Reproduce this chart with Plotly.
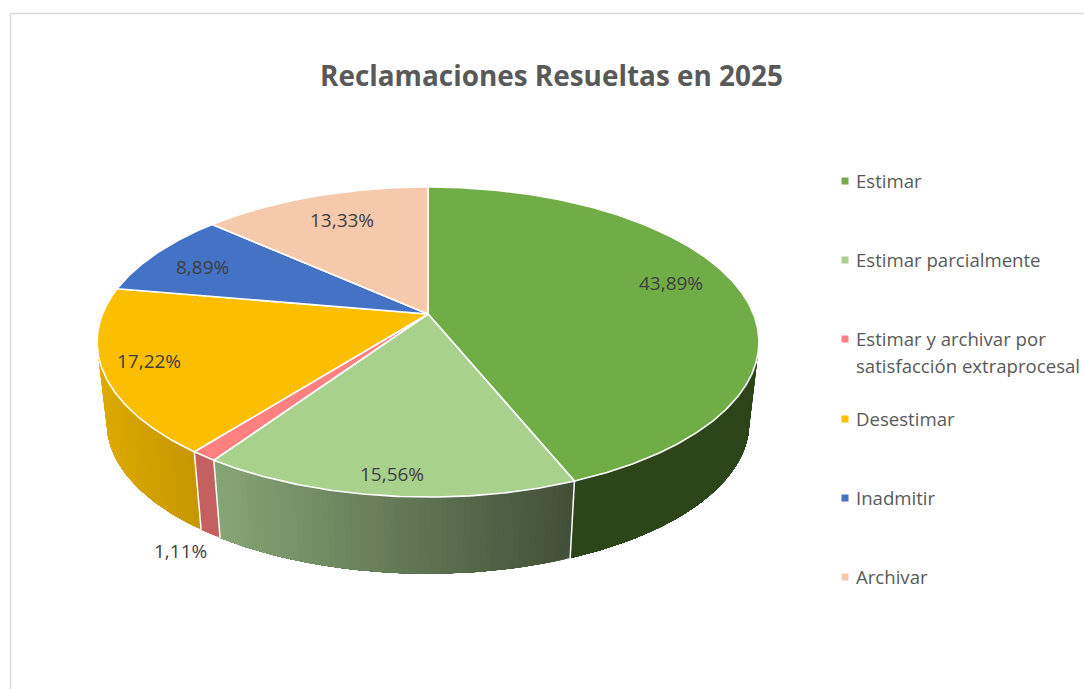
import math
import plotly.graph_objects as go

# ---- data ----
TITLE = "Reclamaciones Resueltas en 2025"
categories = ["Estimar", "Estimar parcialmente",
              "Estimar y archivar por<br>satisfacción extraprocesal",
              "Desestimar", "Inadmitir", "Archivar"]
values = [43.89, 15.56, 1.11, 17.22, 8.89, 13.33]

# ---- styles ----
top_colors = ["#70AD47", "#A9D18E", "#FF8080", "#FCBE00", "#4472C4", "#F4C9AC"]
wall_left = ["#2C4519", "#87A676", "#C46060", "#DCA900", "#2C4A80", "#A08470"]
wall_right = ["#2C4519", "#425038", "#C46060", "#C69700", "#2C4A80", "#A08470"]
label_xy = [(671, 283), (392, 474), (180, 551), (149, 361), (202, 267), (342, 220)]
FONT = "Open Sans"

# projection of the pie disc (perspective view, pixel space)
CX, K = 428, 0.1806
TOP = dict(a=325.5, b=150, y0=314)
BOT = dict(a=316, b=146, y0=395.5)


def project(theta_deg, disc):
    t = math.radians(theta_deg)
    u, v = math.sin(t), math.cos(t)
    d = 1 + K * v
    return CX + disc["a"] * u / d, disc["y0"] - disc["b"] * v / d


def hex_mix(c1, c2, f):
    a = [int(c1[i:i + 2], 16) for i in (1, 3, 5)]
    b = [int(c2[i:i + 2], 16) for i in (1, 3, 5)]
    return "#%02x%02x%02x" % tuple(round(p + (q - p) * f) for p, q in zip(a, b))


def arc(t0, t1, disc, step=1.0):
    n = max(2, int(abs(t1 - t0) / step) + 1)
    return [project(t0 + (t1 - t0) * i / (n - 1), disc) for i in range(n)]


def poly(pts, fill, line=None, lw=0.0):
    xs, ys = zip(*pts)
    return go.Scatter(x=list(xs), y=list(ys), mode="lines", fill="toself", fillcolor=fill,
                      line=dict(color=line or fill, width=lw), hoverinfo="skip", showlegend=False)


total = sum(values)
edges = [0.0]
for val in values:
    edges.append(edges[-1] + val / total * 360)

fig = go.Figure()

# side walls (only the near half of the disc shows); painted back to front so no seams show
VIS0, VIS1 = 80.0, 280.0
for i, col in enumerate(top_colors):
    a0, a1 = max(edges[i], VIS0), min(edges[i + 1], VIS1)
    if a1 <= a0:
        continue
    n = max(6, int((a1 - a0) * 1.2))
    x_a, x_b = project(a0, TOP)[0], project(min(a1, 270), TOP)[0]
    xmin, xmax = min(x_a, x_b), max(x_a, x_b)
    for j in range(n):
        s0 = a0 + (a1 - a0) * j / n
        xm = project(s0, TOP)[0]
        f = min(1, max(0, (xm - xmin) / (xmax - xmin)))
        c = hex_mix(wall_left[i], wall_right[i], f)
        fig.add_trace(poly(arc(s0, a1, TOP) + arc(a1, s0, BOT), c))

# white separators between visible wall pieces
for e in edges[1:4]:
    p, q = project(e, TOP), project(e, BOT)
    fig.add_trace(go.Scatter(x=[p[0], q[0]], y=[p[1], q[1]], mode="lines",
                             line=dict(color="#ffffff", width=1.5), hoverinfo="skip", showlegend=False))

# top face
centre = (CX, TOP["y0"])
for i, col in enumerate(top_colors):
    fig.add_trace(poly([centre] + arc(edges[i], edges[i + 1], TOP, 0.5) + [centre], col, "#ffffff", 1.6))

# legend markers and text
legend_x, legend_text_x = 845, 854
legend_y = [181, 260, 339, 419, 498, 577]
fig.add_trace(go.Scatter(x=[legend_x] * len(categories), y=legend_y, mode="markers",
                         marker=dict(symbol="square", size=7, color=top_colors, line=dict(width=0)),
                         hoverinfo="skip", showlegend=False))

annotations = []
for name, y in zip(categories, legend_y):
    for j, part in enumerate(name.split("<br>")):
        annotations.append(dict(x=legend_text_x, y=y - 1 + 27 * j, xref="x", yref="y", text=part,
                                showarrow=False, xanchor="left", yanchor="middle",
                                font=dict(family=FONT, size=18.6, color="#595959")))

for val, (lx, ly) in zip(values, label_xy):
    annotations.append(dict(x=lx, y=ly, xref="x", yref="y", text=f"{val:.2f}%".replace(".", ","),
                            showarrow=False, xanchor="center", yanchor="middle",
                            font=dict(family=FONT, size=19, color="#404040")))

annotations.append(dict(x=551, y=75, xref="x", yref="y", text=f"<b>{TITLE}</b>", showarrow=False,
                        xanchor="center", yanchor="middle",
                        font=dict(family=FONT, size=27.9, color="#595959")))

fig.update_layout(
    width=1084, height=689, margin=dict(l=0, r=0, t=0, b=0), autosize=False,
    paper_bgcolor="#ffffff", plot_bgcolor="#ffffff", showlegend=False,
    xaxis=dict(range=[0, 1084], visible=False, fixedrange=True),
    yaxis=dict(range=[689, 0], visible=False, fixedrange=True),
    annotations=annotations,
    shapes=[dict(type="line", xref="x", yref="y", x0=10.5, x1=10.5, y0=13.5, y1=689,
                 line=dict(color="#d9d9d9", width=1.5)),
            dict(type="line", xref="x", yref="y", x0=10.5, x1=1084, y0=13.5, y1=13.5,
                 line=dict(color="#d9d9d9", width=1.5))],
)
fig.write_html("out.html", config=dict(displayModeBar=False),
               post_script="document.body.style.margin='0';document.documentElement.style.overflow='hidden';")
